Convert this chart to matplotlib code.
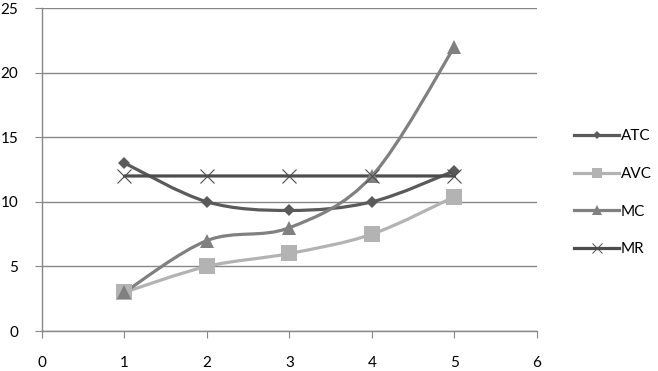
import numpy as np
import matplotlib
matplotlib.use("Agg")
import matplotlib.pyplot as plt
from matplotlib.path import Path
from matplotlib.patches import PathPatch
from matplotlib.lines import Line2D

x = [1, 2, 3, 4, 5]
atc = [13, 10, 9.33, 10, 12.4]
avc = [3, 5, 6, 7.5, 10.4]
mc = [3, 7, 8, 12, 22]
mr = [12, 12, 12, 12, 12]

names = ["ATC", "AVC", "MC", "MR"]
colors = ["#5a5a5a", "#b3b3b3", "#808080", "#4d4d4d"]
markers = ["D", "s", "^", "x"]
msizes = [6.5, 11, 10, 10]

plt.rcParams['font.family'] = ['Lato', 'DejaVu Sans']


def smooth_path(xs, ys):
    # excel style smoothed line: bezier through the points
    pts = np.column_stack([xs, ys]).astype(float)
    n = len(pts)
    verts = [pts[0]]
    codes = [Path.MOVETO]
    for i in range(n - 1):
        p0 = pts[i - 1] if i > 0 else pts[i]
        p1 = pts[i]
        p2 = pts[i + 1]
        p3 = pts[i + 2] if i + 2 < n else pts[i + 1]
        c1 = p1 + (p2 - p0) / 6
        c2 = p2 - (p3 - p1) / 6
        verts += [c1, c2, p2]
        codes += [Path.CURVE4] * 3
    return Path(verts, codes)


fig = plt.figure(figsize=(6.58, 3.71), dpi=100)
ax = fig.add_axes([0.0638, 0.1078, 0.7523, 0.8706])

handles = []
for ys, name, c, m, ms in zip([atc, avc, mc, mr], names, colors, markers, msizes):
    ax.add_patch(PathPatch(smooth_path(x, ys), fill=False, edgecolor=c,
                           lw=2.3, zorder=3, capstyle='round', joinstyle='round'))
    if m == "x":
        ax.plot(x, ys, ls="none", marker=m, ms=ms, mew=0.8, color=c, zorder=4)
    else:
        ax.plot(x, ys, ls="none", marker=m, ms=ms, mew=0, color=c, zorder=4)
    handles.append(Line2D([0], [0], color=c, lw=2.3, marker=m, ms=ms * 0.7,
                          mew=0.7 if m == "x" else 0))

ax.set_xlim(0, 6)
ax.set_ylim(0, 25)
ax.set_xticks(range(0, 7))
ax.set_yticks(range(0, 26, 5))
ax.grid(axis="y", color="#878787", lw=1)
ax.set_axisbelow(True)
for s in ["top", "right"]:
    ax.spines[s].set_visible(False)
for s in ["left", "bottom"]:
    ax.spines[s].set_color("#878787")
    ax.spines[s].set_linewidth(1)
ax.tick_params(axis="both", direction="out", color="#878787", length=5,
               labelsize=11, colors="black")
ax.tick_params(axis="y", pad=12)
ax.tick_params(axis="x", pad=13)
for t in ax.get_xticklabels() + ax.get_yticklabels():
    t.set_color("black")

fig.legend(handles, names, loc="center left", bbox_to_anchor=(0.852, 0.48),
           frameon=False, fontsize=11, handlelength=2.9, handletextpad=0.15,
           labelspacing=1.55)

fig.savefig("out.png", dpi=100)
